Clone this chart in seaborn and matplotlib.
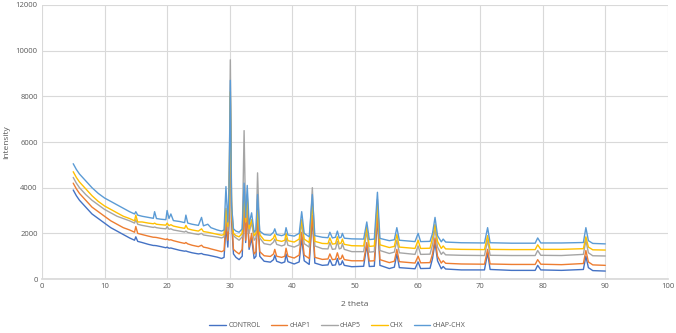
"""XRD patterns of the five samples (2 theta vs intensity)."""
import matplotlib.pyplot as plt
import pandas as pd
import seaborn as sns

two_theta = [
    5, 5.5, 6, 7, 8, 9, 10, 11, 12, 13, 14, 14.8, 15.0, 15.3, 16, 17, 17.8, 18.0, 18.3, 19,
    19.8, 20.0, 20.3, 20.6, 21, 22, 22.8, 23.0, 23.3, 24, 25, 25.5, 25.8, 26.5, 27, 28, 28.7,
    29.1, 29.4, 29.7, 29.9, 30.1, 30.3, 30.6, 31.0, 31.5, 32.0, 32.3, 32.55, 32.8, 33.1, 33.5,
    33.9, 34.2, 34.45, 34.8, 35.5, 36.5, 37.0, 37.2, 37.5, 38.3, 38.8, 39.0, 39.3, 40.3, 41.1,
    41.5, 41.9, 42.7, 43.2, 43.6, 44.8, 45.7, 46.0, 46.4, 46.9, 47.2, 47.5, 47.8, 48.0, 48.3,
    49.5, 51.4, 51.9, 52.3, 53.1, 53.6, 54.0, 55.5, 56.3, 56.7, 57.1, 59.6, 60.1, 60.5, 62.0,
    62.4, 62.8, 63.2, 63.8, 64.1, 64.5, 67, 70.7, 71.2, 71.6, 75, 78.8, 79.2, 79.7, 83, 86.5,
    86.9, 87.3, 88, 90,
]

control = [
    3900, 3650, 3450, 3150, 2850, 2650, 2450, 2250, 2100, 1950, 1800, 1700, 1850, 1650, 1600,
    1520, 1470, 1470, 1460, 1420, 1370, 1400, 1350, 1360, 1330, 1260, 1220, 1230, 1200, 1150,
    1100, 1120, 1080, 1050, 1020, 960, 900, 950, 2300, 1400, 2500, 8000, 2500, 1100, 950, 850,
    1000, 3500, 1600, 3000, 1300, 1800, 900, 1000, 3500, 1000, 780, 740, 850, 1050, 780, 700,
    750, 1100, 760, 660, 750, 1800, 800, 640, 2700, 700, 600, 620, 850, 600, 620, 900, 620, 650,
    800, 600, 540, 560, 1500, 550, 560, 2700, 600, 460, 520, 1100, 500, 450, 750, 460, 470, 900,
    1600, 800, 450, 550, 440, 400, 400, 1150, 420, 380, 380, 600, 400, 380, 420, 1000, 500, 370,
    350,
]

chap1 = [
    4200, 3950, 3750, 3450, 3150, 2950, 2750, 2550, 2400, 2250, 2150, 2050, 2300, 2000, 1950,
    1880, 1830, 1830, 1820, 1780, 1730, 1760, 1710, 1720, 1680, 1610, 1560, 1600, 1540, 1480,
    1420, 1480, 1400, 1360, 1320, 1250, 1200, 1250, 2600, 1700, 2800, 7000, 2700, 1300, 1200,
    1100, 1300, 3300, 1700, 3000, 1400, 2000, 1100, 1200, 2500, 1200, 1020, 990, 1100, 1300,
    1000, 950, 1000, 1350, 1000, 920, 1050, 2050, 1050, 900, 2800, 950, 860, 880, 1100, 850, 870,
    1150, 870, 900, 1050, 850, 800, 800, 1600, 790, 800, 2800, 850, 720, 780, 1300, 760, 700,
    1000, 710, 720, 1100, 1800, 1000, 700, 800, 690, 660, 650, 1300, 660, 640, 640, 850, 650,
    630, 680, 1250, 750, 620, 600,
]

chap5 = [
    4450, 4200, 4000, 3700, 3450, 3250, 3050, 2900, 2750, 2650, 2550, 2450, 2600, 2400, 2350,
    2300, 2260, 2280, 2250, 2220, 2200, 2300, 2180, 2200, 2150, 2100, 2060, 2100, 2040, 2000,
    1950, 2000, 1930, 1900, 1880, 1840, 1800, 1850, 3000, 2100, 3500, 9600, 3400, 1900, 1800,
    1700, 1850, 6500, 2500, 3700, 2000, 2500, 1700, 1800, 4650, 1800, 1550, 1500, 1620, 1750,
    1520, 1450, 1500, 1800, 1480, 1400, 1500, 2500, 1550, 1400, 4000, 1450, 1330, 1320, 1600,
    1300, 1320, 1650, 1320, 1350, 1550, 1300, 1200, 1200, 2100, 1180, 1200, 3500, 1250, 1120,
    1180, 1700, 1150, 1080, 1450, 1080, 1090, 1500, 2200, 1400, 1080, 1180, 1060, 1040, 1030,
    1700, 1040, 1030, 1030, 1250, 1040, 1030, 1080, 1700, 1150, 1020, 1010,
]

chx = [
    4700, 4450, 4250, 3950, 3650, 3400, 3200, 3050, 2900, 2750, 2650, 2550, 2800, 2500, 2500,
    2450, 2420, 2450, 2400, 2380, 2360, 2450, 2340, 2380, 2320, 2260, 2220, 2350, 2200, 2150,
    2100, 2200, 2080, 2050, 2020, 1960, 1920, 1950, 3100, 2300, 3500, 8200, 3000, 2000, 1900,
    1850, 2000, 3800, 2500, 3600, 2200, 2600, 1900, 2000, 3000, 1950, 1700, 1680, 1800, 1950,
    1700, 1650, 1700, 2000, 1680, 1620, 1750, 2600, 1750, 1600, 3300, 1650, 1560, 1550, 1800,
    1530, 1550, 1850, 1540, 1580, 1750, 1520, 1460, 1450, 2300, 1430, 1450, 3300, 1500, 1380,
    1430, 1950, 1400, 1340, 1700, 1340, 1350, 1800, 2400, 1650, 1340, 1450, 1320, 1300, 1290,
    1900, 1300, 1290, 1290, 1500, 1300, 1300, 1330, 1850, 1400, 1280, 1270,
]

chap_chx = [
    5050, 4800, 4600, 4300, 4000, 3750, 3550, 3400, 3250, 3100, 2950, 2850, 2950, 2800, 2750,
    2700, 2660, 2950, 2650, 2620, 2600, 3000, 2650, 2850, 2560, 2520, 2470, 2800, 2450, 2400,
    2350, 2700, 2330, 2400, 2250, 2150, 2100, 2150, 4050, 2500, 4000, 8700, 3200, 2200, 2100,
    2050, 2200, 4200, 2700, 4100, 2400, 2900, 2050, 2150, 3700, 2100, 1950, 1920, 2050, 2200,
    1950, 1900, 1950, 2250, 1930, 1880, 2000, 2950, 2000, 1850, 3700, 1900, 1830, 1810, 2050,
    1800, 1830, 2100, 1800, 1830, 2000, 1790, 1760, 1750, 2500, 1730, 1750, 3800, 1780, 1680,
    1720, 2250, 1700, 1640, 2000, 1640, 1650, 2000, 2700, 1900, 1630, 1750, 1620, 1590, 1580,
    2250, 1590, 1570, 1570, 1800, 1580, 1580, 1600, 2250, 1680, 1560, 1540,
]

series_names = ["CONTROL", "cHAP1", "cHAP5", "CHX", "cHAP-CHX"]
series_values = [control, chap1, chap5, chx, chap_chx]
colors = ["#4472C4", "#ED7D31", "#A5A5A5", "#FFC000", "#5B9BD5"]

frames = [
    pd.DataFrame({"2 theta": two_theta, "Intensity": vals, "sample": name})
    for name, vals in zip(series_names, series_values)
]
df = pd.concat(frames, ignore_index=True)

sns.set_theme(style="whitegrid")
plt.rcParams["font.family"] = ["Open Sans", "DejaVu Sans"]

text_color = "#595959"
fig, ax = plt.subplots(figsize=(6.76, 3.33), dpi=100)
fig.subplots_adjust(left=0.062, right=0.988, top=0.985, bottom=0.162)

sns.lineplot(
    data=df, x="2 theta", y="Intensity", hue="sample", hue_order=series_names,
    palette=colors, sort=False, estimator=None, linewidth=1.0, ax=ax,
)

ax.set_xlim(0, 100)
ax.set_ylim(0, 12000)
ax.set_xticks(range(0, 101, 10))
ax.set_yticks(range(0, 12001, 2000))
ax.grid(True, color="#D9D9D9", linewidth=0.8)
for side in ["top", "right", "left"]:
    ax.spines[side].set_visible(False)
ax.spines["bottom"].set_color("#D9D9D9")
ax.tick_params(axis="both", labelsize=5.5, colors=text_color, length=0, pad=3)
ax.set_xlabel("2 theta", fontsize=6, color=text_color, labelpad=8)
ax.set_ylabel("Intensity", fontsize=6, color=text_color, labelpad=4)

leg = ax.legend(
    loc="upper center", bbox_to_anchor=(0.472, -0.135), ncol=5, frameon=False,
    fontsize=5, handlelength=2.4, columnspacing=1.5, handletextpad=0.3,
)
for text in leg.get_texts():
    text.set_color(text_color)

plt.savefig("out.png", dpi=100)
